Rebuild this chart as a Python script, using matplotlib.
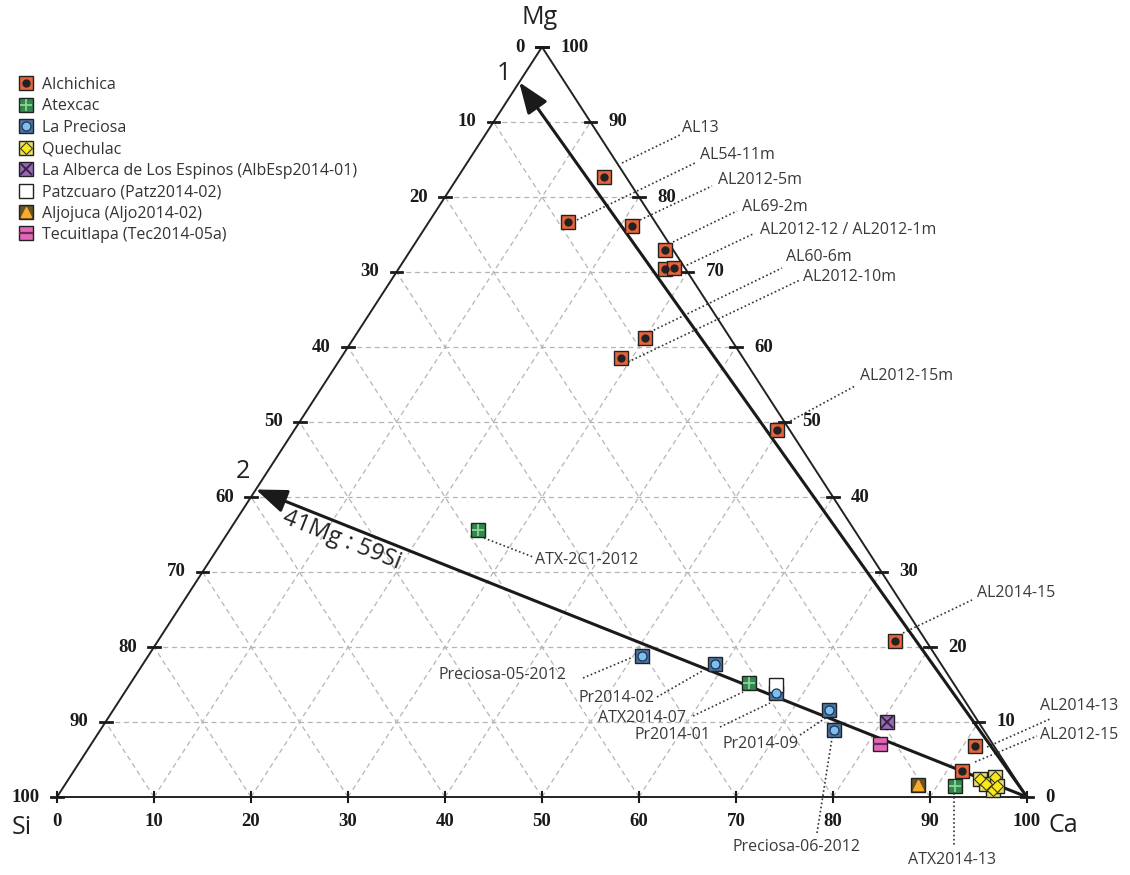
import numpy as np
import matplotlib.pyplot as plt
from matplotlib.lines import Line2D

plt.rcParams['font.family'] = ['Open Sans', 'DejaVu Sans']

# ternary compositions (Ca, Mg) in %, Si = 100 - Ca - Mg
alch_ca = [15.0, 14.3, 21.2, 26.2, 27.5, 28.4, 30.0, 28.9, 49.8, 76.0, 91.2, 91.6]
alch_mg = [82.7, 76.7, 76.1, 72.9, 70.4, 70.5, 61.2, 58.5, 48.9, 20.8, 6.8, 3.5]
atx_ca = [25.6, 63.7, 91.8]
atx_mg = [35.6, 15.2, 1.5]
prec_ca = [50.9, 59.0, 67.2, 73.8, 75.7]
prec_mg = [18.8, 17.7, 13.9, 11.6, 8.9]
quech_ca = [94.0, 95.3, 96.0, 94.9, 96.2]
quech_mg = [2.4, 2.7, 0.9, 1.7, 1.5]
albesp_ca, albesp_mg = [80.6], [10.0]
patz_ca, patz_mg = [66.7], [14.9]
aljo_ca, aljo_mg = [88.0], [1.6]
tec_ca, tec_mg = [81.3], [7.1]

ticks = list(range(0, 101, 10))
arrow1_mg = 95.3   # end of trend 1 on the Mg-Si side
arrow2_mg = 41.0   # 41Mg : 59Si

legend_names = ['Alchichica', 'Atexcac', 'La Preciosa', 'Quechulac',
                'La Alberca de Los Espinos (AlbEsp2014-01)', 'Patzcuaro (Patz2014-02)',
                'Aljojuca (Aljo2014-02)', 'Tecuitlapa (Tec2014-05a)']

# sample labels: text, text anchor (px), leader start (px), leader end (px), ha
labels = [
    ('AL13', (682, 128), (622, 163), (680, 135), 'left'),
    ('AL54-11m', (700, 155), (577, 220), (695, 163), 'left'),
    ('AL2012-5m', (718, 180), (640, 220), (712, 186), 'left'),
    ('AL69-2m', (742, 207), (673, 242), (737, 211), 'left'),
    ('AL2012-12 / AL2012-1m', (760, 230), (683, 267), (753, 234), 'left'),
    ('AL60-6m', (786, 257), (650, 332), (782, 268), 'left'),
    ('AL2012-10m', (803, 277), (628, 362), (800, 280), 'left'),
    ('AL2012-15m', (860, 376), (783, 425), (855, 386), 'left'),
    ('AL2014-15', (977, 593), (903, 633), (972, 600), 'left'),
    ('AL2014-13', (1040, 706), (987, 747), (1050, 719), 'left'),
    ('AL2012-15', (1040, 735), (975, 762), (1037, 736), 'left'),
    ('ATX-2C1-2012', (535, 560), (484, 538), (533, 557), 'left'),
    ('Preciosa-05-2012', (567, 675), (583, 678), (633, 657), 'right'),
    ('Pr2014-02', (655, 698), (657, 697), (704, 670), 'right'),
    ('ATX2014-07', (686, 718), (693, 716), (743, 692), 'right'),
    ('Pr2014-01', (710, 735), (720, 727), (770, 703), 'right'),
    ('Pr2014-09', (722, 744), (800, 735), (827, 717), 'left'),
    ('Preciosa-06-2012', (733, 847), (817, 833), (832, 738), 'left'),
    ('ATX2014-13', (908, 860), (954, 793), (954, 847), 'left'),
]


def tern(ca, mg):
    ca = np.asarray(ca, dtype=float)
    mg = np.asarray(mg, dtype=float)
    return ca + mg / 2, mg


def px(x, y):
    # pixel position of the figure -> data coords
    return (x - 57) / 9.7, (797 - y) / 7.5


fig = plt.figure(figsize=(11.3, 8.75), dpi=100)
ax = fig.add_axes([0, 0, 1, 1])
ax.set_xlim(-57 / 9.7, (1130 - 57) / 9.7)
ax.set_ylim((797 - 875) / 7.5, 797 / 7.5)
ax.axis('off')

# grid
gkw = dict(color='#b5b5b5', lw=0.9, ls=(0, (4, 3)), zorder=1)
for v in ticks[1:-1]:
    ax.plot(*tern([0, 100 - v], [v, v]), **gkw)
    ax.plot(*tern([v, v], [0, 100 - v]), **gkw)
    ax.plot(*tern([100 - v, 0], [0, 100 - v]), **gkw)

# frame
ax.plot(*tern([0, 100, 0, 0], [0, 0, 100, 0]), color='#222222', lw=1.4, zorder=2)

# ticks + labels
tfont = dict(family='Liberation Serif', fontweight='bold', fontsize=13.5, color='#1a1a1a')
for v in ticks:
    # left edge: Si
    x, y = tern(0, 100 - v)
    ax.plot([x - 6 / 9.7, x + 6 / 9.7], [y, y], color='#1a1a1a', lw=2, zorder=3)
    ax.text(x - 17 / 9.7, y, str(v), ha='right', va='center', **tfont)
    # right edge: Mg
    x, y = tern(100 - v, v)
    ax.plot([x - 6 / 9.7, x + 6 / 9.7], [y, y], color='#1a1a1a', lw=2, zorder=3)
    ax.text(x + 18 / 9.7, y, str(v), ha='left', va='center', **tfont)
    # bottom: Ca
    x, y = tern(v, 0)
    ax.plot([x, x], [y - 5 / 7.5, y + 5 / 7.5], color='#1a1a1a', lw=1.5, zorder=3)
    ax.text(x, y - 25 / 7.5, str(v), ha='center', va='center', **tfont)

vfont = dict(fontsize=18, color='#222222')
ax.text(*px(540, 18), 'Mg', ha='center', va='center', **vfont)
ax.text(*px(22, 828), 'Si', ha='center', va='center', **vfont)
ax.text(*px(1063, 826), 'Ca', ha='center', va='center', **vfont)

# trend arrows
akw = dict(arrowstyle='-|>,head_length=1.0,head_width=0.38', lw=2.2, color='#1a1a1a',
           mutation_scale=19, shrinkA=0, shrinkB=0)
ax.annotate('', xy=tern(0, arrow1_mg), xytext=tern(100, 0), arrowprops=akw, zorder=4)
ax.annotate('', xy=tern(0, arrow2_mg), xytext=tern(100, 0), arrowprops=akw, zorder=4)
ax.text(*px(504, 73), '1', ha='center', va='center', **vfont)
ax.text(*px(243, 472), '2', ha='center', va='center', **vfont)
ang = -np.degrees(np.arctan2(797 - 490, 1027 - 258))
ax.text(*px(342, 540), '41Mg : 59Si', rotation=ang, rotation_mode='anchor',
        ha='center', va='center', fontsize=17, color='#222222')

# leader lines and sample labels
for txt, tpos, p0, p1, ha in labels:
    (x0, y0), (x1, y1) = px(*p0), px(*p1)
    ax.plot([x0, x1], [y0, y1], color='#333333', lw=1.2, ls=(0, (1.0, 1.5)), zorder=2)
    ax.text(*px(*tpos), txt, ha=ha, va='center', fontsize=11.5, color='#3a3a3a')

# markers
ms = 10
sq = dict(marker='s', ms=ms, mec='#222222', mew=1.0, ls='none')
styles = [
    (alch_ca, alch_mg, dict(mfc='#e8633a', **sq), dict(marker='o', ms=5, mfc='#222222', mec='#222222', ls='none')),
    (atx_ca, atx_mg, dict(mfc='#2f8a4c', **sq), dict(marker='+', ms=9, mew=1.3, mec='#8fd39c', ls='none')),
    (prec_ca, prec_mg, dict(mfc='#4a74a6', **sq), dict(marker='o', ms=6.5, mfc='#7cc0f0', mec='#1e3350', mew=0.9, ls='none')),
    (quech_ca, quech_mg, dict(mfc='#e4df70', **sq), dict(marker='D', ms=6.5, mfc='#fbe816', mec='#3a3a1a', mew=0.8, ls='none')),
    (albesp_ca, albesp_mg, dict(mfc='#9a68b4', **sq), dict(marker='x', ms=8, mew=1.4, mec='#3a2448', ls='none')),
    (patz_ca, patz_mg, dict(mfc='white', **sq), None),
    (aljo_ca, aljo_mg, dict(mfc='#6b5124', **sq), dict(marker='^', ms=7.5, mfc='#f7ad2a', mec='#f7ad2a', ls='none')),
    (tec_ca, tec_mg, dict(mfc='#e466b8', **sq), dict(marker='_', ms=10, mew=1.6, mec='#6a2a55', ls='none')),
]
handles = []
for ca, mg, base, inner in styles:
    x, y = tern(ca, mg)
    ax.plot(x, y, zorder=5, **base)
    h = [Line2D([], [], **base)]
    if inner is not None:
        ax.plot(x, y, zorder=6, **inner)
        h.append(Line2D([], [], **inner))
    handles.append(tuple(h))

ax.legend(handles, legend_names, loc='upper left', bbox_to_anchor=(19 / 1130, 1 - 77 / 875),
          frameon=False, fontsize=11.5, handlelength=0.9, handletextpad=0.55,
          labelspacing=0.34, borderpad=0, borderaxespad=0, labelcolor='#333333')

fig.savefig('out.png', dpi=100)
